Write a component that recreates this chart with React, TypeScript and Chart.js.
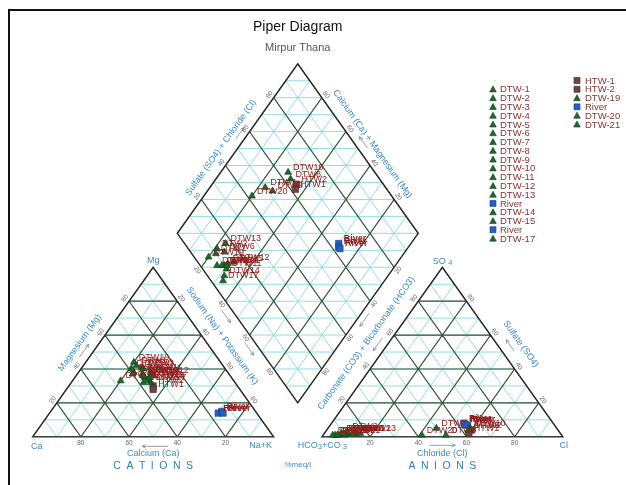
import React, { useEffect, useRef } from "react";
import { Chart, registerables } from "chart.js";

Chart.register(...registerables);

// ---------------- DATA (percent meq/l) ----------------
const sampleNames = [
  "DTW-1", "DTW-2", "DTW-3", "DTW-4", "DTW-5", "DTW-6", "DTW-7", "DTW-8", "DTW-9",
  "DTW-10", "DTW-11", "DTW-12", "DTW-13", "River", "DTW-14", "DTW-15", "River", "DTW-17",
  "HTW-1", "HTW-2", "DTW-19", "River", "DTW-20", "DTW-21",
];
const sampleKinds = [
  "DTW", "DTW", "DTW", "DTW", "DTW", "DTW", "DTW", "DTW", "DTW",
  "DTW", "DTW", "DTW", "DTW", "River", "DTW", "DTW", "River", "DTW",
  "HTW", "HTW", "DTW", "River", "DTW", "DTW",
];
const calciumPct = [36, 39, 34, 32, 36, 34, 40, 34, 36, 36, 35, 32, 39, 14, 35, 38, 14, 35, 36, 35, 36, 16, 47, 36];
const magnesiumPct = [42, 40, 40, 38, 36, 41, 37, 35, 37, 36, 34, 36, 38, 14, 33, 32, 15, 32, 28, 30, 44, 14, 33, 35];
const sodiumPotassiumPct = [22, 21, 26, 30, 28, 25, 23, 31, 27, 28, 31, 32, 23, 72, 32, 30, 71, 33, 36, 35, 20, 70, 20, 29];
const bicarbonatePct = [90, 88, 93, 89, 91, 86, 50, 37, 48, 36, 90, 85, 83, 37, 93, 88, 37, 95, 38, 36, 94, 36, 58, 90];
const sulfatePct = [2, 3, 1, 2, 2, 2, 5, 4, 1, 5, 2, 2, 2, 7, 1, 2, 8, 1, 2, 4, 1, 7, 1, 1];
const chloridePct = [8, 9, 6, 9, 7, 12, 45, 59, 51, 59, 8, 13, 15, 56, 6, 10, 55, 4, 60, 60, 5, 57, 41, 9];
const tickValues = [20, 40, 60, 80];
const legendFirstColumnCount = 18;

// ---------------- GEOMETRY ----------------
const SQ3 = Math.sqrt(3);
const H = SQ3 / 2;
const GAP = 20;
const CATION: number[][] = [[0, 0], [100, 0], [50, 100 * H]];
const ANION: number[][] = [[100 + GAP, 0], [200 + GAP, 0], [150 + GAP, 100 * H]];
const DIAMOND: number[][] = [
  [100 + GAP / 2, GAP * H],
  [150 + GAP / 2, (100 + GAP) * H],
  [100 + GAP / 2, (200 + GAP) * H],
  [50 + GAP / 2, (100 + GAP) * H],
];
const centroid = (pts: number[][]) => [
  pts.reduce((s, p) => s + p[0], 0) / pts.length,
  pts.reduce((s, p) => s + p[1], 0) / pts.length,
];

function cationPoint(i: number) {
  const t = calciumPct[i] + magnesiumPct[i] + sodiumPotassiumPct[i];
  const mg = (magnesiumPct[i] / t) * 100;
  const nak = (sodiumPotassiumPct[i] / t) * 100;
  return { x: nak + mg / 2, y: mg * H };
}
function anionPoint(i: number) {
  const t = bicarbonatePct[i] + sulfatePct[i] + chloridePct[i];
  const so4 = (sulfatePct[i] / t) * 100;
  const cl = (chloridePct[i] / t) * 100;
  return { x: 100 + GAP + cl + so4 / 2, y: so4 * H };
}
function diamondPoint(i: number) {
  const tc = calciumPct[i] + magnesiumPct[i] + sodiumPotassiumPct[i];
  const ta = bicarbonatePct[i] + sulfatePct[i] + chloridePct[i];
  const u = sodiumPotassiumPct[i] / tc;
  const v = (sulfatePct[i] + chloridePct[i]) / ta;
  const L = DIAMOND[3];
  return { x: L[0] + 50 * u + 50 * v, y: L[1] + 100 * H * (v - u) };
}

const KIND_COLOR: Record<string, string> = { DTW: "#1d6a2a", HTW: "#6e4646", River: "#2060c8" };
const KIND_BORDER: Record<string, string> = { DTW: "#0f3d16", HTW: "#3e2020", River: "#123e8a" };

const FONT = "'Liberation Sans', Arial, Helvetica, sans-serif";
const BLUE = "#3a8cc4";
const TICK = "#666666";

const X_MIN = -28 / 2.45;
const X_MAX = (626 - 28) / 2.45;
const Y_MAX = 441 / 2.0;
const Y_MIN = (441 - 485) / 2.0;

const piperPlugin = {
  id: "piperFrame",
  beforeDatasetsDraw(chart: any) {
    const ctx: CanvasRenderingContext2D = chart.ctx;
    const xs = chart.scales.x;
    const ys = chart.scales.y;
    const P = (X: number, Y: number) => [xs.getPixelForValue(X), ys.getPixelForValue(Y)];
    const path = (pts: number[][]) => {
      ctx.beginPath();
      pts.forEach((p, k) => {
        const q = P(p[0], p[1]);
        if (k === 0) ctx.moveTo(q[0], q[1]);
        else ctx.lineTo(q[0], q[1]);
      });
      ctx.closePath();
    };
    const lattice = (step: number, horiz: boolean, color: string, width: number) => {
      ctx.beginPath();
      if (horiz) {
        for (let k = 0; k * step * H <= 200; k++) {
          const Y = k * step * H;
          const a = P(-20, Y), b = P(260, Y);
          ctx.moveTo(a[0], a[1]);
          ctx.lineTo(b[0], b[1]);
        }
      }
      const y0 = -10, y1 = 200;
      for (let c = -200; c <= 360; c += step) {
        let a = P(c + y0 / SQ3, y0), b = P(c + y1 / SQ3, y1);
        ctx.moveTo(a[0], a[1]);
        ctx.lineTo(b[0], b[1]);
        a = P(c - y0 / SQ3, y0);
        b = P(c - y1 / SQ3, y1);
        ctx.moveTo(a[0], a[1]);
        ctx.lineTo(b[0], b[1]);
      }
      ctx.strokeStyle = color;
      ctx.lineWidth = width;
      ctx.stroke();
    };
    ctx.save();
    [CATION, ANION, DIAMOND].forEach((shape, si) => {
      ctx.save();
      path(shape);
      ctx.clip();
      lattice(10, true, "#80d8d8", 0.85);
      lattice(20, si !== 2, "#365636", 1.15);
      ctx.restore();
      path(shape);
      ctx.strokeStyle = "#2a2a2a";
      ctx.lineWidth = 1.4;
      ctx.stroke();
    });
    ctx.restore();
  },
  afterDatasetsDraw(chart: any) {
    const ctx: CanvasRenderingContext2D = chart.ctx;
    const xs = chart.scales.x;
    const ys = chart.scales.y;
    const P = (X: number, Y: number) => [xs.getPixelForValue(X), ys.getPixelForValue(Y)];

    const text = (t: string, x: number, y: number, font: string, color: string, angle = 0, align: CanvasTextAlign = "center") => {
      ctx.save();
      ctx.translate(x, y);
      ctx.rotate(angle);
      ctx.font = font;
      ctx.fillStyle = color;
      ctx.textAlign = align;
      ctx.textBaseline = "middle";
      ctx.fillText(t, 0, 0);
      ctx.restore();
    };
    const edge = (A: number[], B: number[], shape: number[][]) => {
      const a = P(A[0], A[1]), b = P(B[0], B[1]);
      const cc = centroid(shape);
      const c = P(cc[0], cc[1]);
      let dx = b[0] - a[0], dy = b[1] - a[1];
      const len = Math.hypot(dx, dy);
      dx /= len; dy /= len;
      if (dx < -1e-6) { dx = -dx; dy = -dy; }
      const mx = (a[0] + b[0]) / 2, my = (a[1] + b[1]) / 2;
      let nx = -dy, ny = dx;
      if ((mx - c[0]) * nx + (my - c[1]) * ny < 0) { nx = -nx; ny = -ny; }
      return {
        dx, dy, nx, ny, angle: Math.atan2(dy, dx),
        at: (off: number, shift: number) => [mx + nx * off + dx * shift, my + ny * off + dy * shift],
        along: (f: number, off: number) => [a[0] + (b[0] - a[0]) * f + nx * off, a[1] + (b[1] - a[1]) * f + ny * off],
      };
    };
    const arrow = (x: number, y: number, ux: number, uy: number, len: number) => {
      const x0 = x - (ux * len) / 2, y0 = y - (uy * len) / 2;
      const x1 = x + (ux * len) / 2, y1 = y + (uy * len) / 2;
      ctx.save();
      ctx.strokeStyle = "#7a8a9a";
      ctx.lineWidth = 0.8;
      ctx.beginPath();
      ctx.moveTo(x0, y0);
      ctx.lineTo(x1, y1);
      const ang = Math.atan2(uy, ux);
      for (const s of [-1, 1]) {
        ctx.moveTo(x1, y1);
        ctx.lineTo(x1 - 4 * Math.cos(ang + s * 0.45), y1 - 4 * Math.sin(ang + s * 0.45));
      }
      ctx.stroke();
      ctx.restore();
    };
    const lblFont = `9px ${FONT}`;
    const tickFont = `6.5px ${FONT}`;

    // ---- edges, axis titles, arrows, ticks ----
    const cL = edge(CATION[0], CATION[2], CATION);
    const cR = edge(CATION[2], CATION[1], CATION);
    const cB = edge(CATION[0], CATION[1], CATION);
    const aL = edge(ANION[0], ANION[2], ANION);
    const aR = edge(ANION[2], ANION[1], ANION);
    const aB = edge(ANION[0], ANION[1], ANION);
    const dUL = edge(DIAMOND[3], DIAMOND[2], DIAMOND);
    const dUR = edge(DIAMOND[2], DIAMOND[1], DIAMOND);
    const dLL = edge(DIAMOND[3], DIAMOND[0], DIAMOND);
    const dLR = edge(DIAMOND[0], DIAMOND[1], DIAMOND);

    let p = cL.at(16, 0);
    text("Magnesium (Mg)", p[0], p[1], lblFont, BLUE, cL.angle);
    p = cL.at(8, -4); arrow(p[0], p[1], cL.dx, cL.dy, 16);

    p = cR.at(16.5, -8);
    text("Sodium (Na) + Potassium (K)", p[0], p[1], lblFont, BLUE, cR.angle);
    p = cR.at(31, -22); arrow(p[0], p[1], cR.dx, cR.dy, 16);
    p = cR.at(31, 18); arrow(p[0], p[1], cR.dx, cR.dy, 16);

    p = cB.at(17, 0);
    text("Calcium (Ca)", p[0], p[1], lblFont, BLUE);
    p = cB.at(9.5, 2); arrow(p[0], p[1], -1, 0, 26);

    p = aR.at(19.5, 4);
    text("Sulfate (SO4)", p[0], p[1], lblFont, BLUE, aR.angle);
    p = aR.at(10, -1); arrow(p[0], p[1], -aR.dx, -aR.dy, 14);

    p = aL.at(18, -2);
    text("Carbonate (CO3) + Bicarbonate (HCO3)", p[0], p[1], lblFont, BLUE, aL.angle);
    p = aL.at(33, 16); arrow(p[0], p[1], -aL.dx, -aL.dy, 16);
    p = aL.at(8, 4); arrow(p[0], p[1], -aL.dx, -aL.dy, 16);

    p = aB.at(17, 0);
    text("Chloride (Cl)", p[0], p[1], lblFont, BLUE);
    p = aB.at(8.5, 0); arrow(p[0], p[1], 1, 0, 26);

    p = dUL.at(14, -9);
    text("Sulfate (SO4) + Chloride (Cl)", p[0], p[1], lblFont, BLUE, dUL.angle);
    p = dUL.at(7, 14); arrow(p[0], p[1], dUL.dx, dUL.dy, 14);

    p = dUR.at(14.5, 4.7);
    text("Calcium (Ca) + Magnesium (Mg)", p[0], p[1], lblFont, BLUE, dUR.angle);
    p = dUR.at(8, -2); arrow(p[0], p[1], -dUR.dx, -dUR.dy, 14);

    // ticks
    tickValues.forEach((t) => {
      const f = t / 100;
      let q = cB.along(f, 6); text(String(100 - t), q[0], q[1], tickFont, TICK);
      q = cL.along(f, 5); text(String(t), q[0], q[1], tickFont, TICK, cL.angle);
      q = cR.along(f, 5); text(String(t), q[0], q[1], tickFont, TICK, cR.angle);
      q = aB.along(f, 6); text(String(t), q[0], q[1], tickFont, TICK);
      q = aL.along(f, 5); text(String(t), q[0], q[1], tickFont, TICK, aL.angle);
      q = aR.along(f, 5); text(String(100 - t), q[0], q[1], tickFont, TICK, aR.angle);
      q = dUL.along(f, 5); text(String(t), q[0], q[1], tickFont, TICK, dUL.angle);
      q = dUR.along(f, 5); text(String(100 - t), q[0], q[1], tickFont, TICK, dUR.angle);
      q = dLL.along(f, 5); text(String(t), q[0], q[1], tickFont, TICK, dLL.angle);
      q = dLR.along(f, 5); text(String(100 - t), q[0], q[1], tickFont, TICK, dLR.angle);
    });

    // corner labels
    let v = P(CATION[0][0], CATION[0][1]);
    text("Ca", v[0] + 4, v[1] + 10, lblFont, BLUE);
    v = P(CATION[2][0], CATION[2][1]);
    text("Mg", v[0], v[1] - 7, lblFont, BLUE);
    v = P(CATION[1][0], CATION[1][1]);
    text("Na+K", v[0] - 13, v[1] + 8.5, lblFont, BLUE);
    v = P(ANION[2][0], ANION[2][1]);
    text("SO", v[0] - 3, v[1] - 6, lblFont, BLUE);
    text("4", v[0] + 8, v[1] - 4.5, `7.5px ${FONT}`, BLUE);
    v = P(ANION[1][0], ANION[1][1]);
    text("Cl", v[0] + 1, v[1] + 8.5, lblFont, BLUE);
    v = P(ANION[0][0], ANION[0][1]);
    {
      let x = v[0] - 24;
      const y = v[1] + 8.5;
      const pieces: [string, number, number][] = [["HCO", 9, 0], ["3", 7.5, 2], ["+CO", 9, 0], [" 3", 7.5, 2]];
      pieces.forEach(([s, sz, dy]) => {
        ctx.font = `${sz}px ${FONT}`;
        text(s, x, y + dy, `${sz}px ${FONT}`, BLUE, 0, "left");
        x += ctx.measureText(s).width;
      });
    }
    v = P(DIAMOND[0][0], 0);
    text("%meq/l", v[0], v[1] + 28, `8px ${FONT}`, BLUE);

    const spaced = (s: string, cx: number, cy: number, font: string, color: string, gap: number) => {
      ctx.save();
      ctx.font = font;
      const widths = s.split("").map((ch) => ctx.measureText(ch).width);
      const total = widths.reduce((a, b) => a + b, 0) + gap * (s.length - 1);
      let x = cx - total / 2;
      s.split("").forEach((ch, k) => {
        text(ch, x, cy, font, color, 0, "left");
        x += widths[k] + gap;
      });
      ctx.restore();
    };
    p = cB.at(29, 0);
    spaced("CATIONS", p[0], p[1], `10.5px ${FONT}`, "#2f7fb8", 5.5);
    p = aB.at(29, 0);
    spaced("ANIONS", p[0], p[1], `10.5px ${FONT}`, "#2f7fb8", 5.5);

    // ---- point labels ----
    chart.data.datasets.forEach((ds: any, i: number) => {
      const meta = chart.getDatasetMeta(i);
      const name = ds.label.replace("-", "");
      const isRiver = sampleKinds[i] === "River";
      meta.data.forEach((el: any) => {
        text(name, el.x + 5, el.y - 5, `${isRiver ? "bold " : ""}9px ${FONT}`, "#921b1b", 0, "left");
      });
    });

    // ---- legend ----
    const drawIcon = (kind: string, x: number, y: number) => {
      ctx.save();
      ctx.fillStyle = KIND_COLOR[kind];
      ctx.strokeStyle = KIND_BORDER[kind];
      ctx.lineWidth = 0.6;
      ctx.beginPath();
      if (kind === "DTW") {
        ctx.moveTo(x, y - 3.4);
        ctx.lineTo(x + 3.3, y + 2.6);
        ctx.lineTo(x - 3.3, y + 2.6);
        ctx.closePath();
      } else {
        ctx.rect(x - 3, y - 3, 6, 6);
      }
      ctx.fill();
      ctx.stroke();
      ctx.restore();
    };
    const legendFont = `9.5px ${FONT}`;
    const rowStep = 8.78;
    const y0 = 80.5;
    ctx.save();
    ctx.fillStyle = "#bbbbbb";
    ctx.fillRect(494, y0 - 0.5, 1.2, 1.2);
    ctx.restore();
    chart.data.datasets.forEach((ds: any, i: number) => {
      const col = i < legendFirstColumnCount ? 0 : 1;
      const row = col === 0 ? i + 1 : i - legendFirstColumnCount;
      const ix = col === 0 ? 493 : 577;
      const tx = col === 0 ? 500 : 585;
      const y = y0 + row * rowStep;
      drawIcon(sampleKinds[i], ix, y);
      text(ds.label, tx, y + 0.5, legendFont, "#843434", 0, "left");
    });

    // ---- title ----
    const top = P(DIAMOND[2][0], DIAMOND[2][1]);
    text("Piper Diagram", top[0], 27, `14px ${FONT}`, "#111111");
    text("Mirpur Thana", top[0], 48, `11px ${FONT}`, "#555555");
  },
};

export default function App() {
  const ref = useRef<HTMLCanvasElement>(null);
  useEffect(() => {
    const canvas = ref.current;
    if (!canvas) return;
    const datasets = sampleNames.map((name, i) => {
      const kind = sampleKinds[i];
      return {
        label: name,
        data: [cationPoint(i), anionPoint(i), diamondPoint(i)],
        pointStyle: kind === "DTW" ? "triangle" : "rect",
        pointRadius: kind === "DTW" ? 4 : 4.5,
        backgroundColor: KIND_COLOR[kind],
        borderColor: KIND_BORDER[kind],
        borderWidth: 0.6,
      };
    });
    const chart = new Chart(canvas, {
      type: "scatter",
      data: { datasets } as any,
      options: {
        animation: false,
        responsive: false,
        maintainAspectRatio: false,
        events: [],
        layout: { padding: 0 },
        plugins: { legend: { display: false }, tooltip: { enabled: false }, title: { display: false } },
        scales: {
          x: { type: "linear", min: X_MIN, max: X_MAX, display: false },
          y: { type: "linear", min: Y_MIN, max: Y_MAX, display: false },
        },
      } as any,
      plugins: [piperPlugin as any],
    });
    return () => chart.destroy();
  }, []);
  return (
    <div style={{ position: "fixed", left: 0, top: 0, width: 626, height: 485, background: "#ffffff" }}>
      <div
        style={{
          position: "absolute", left: 8, top: 9, right: 0, bottom: 0,
          borderLeft: "2px solid #111", borderTop: "2px solid #111",
        }}
      />
      <canvas ref={ref} width={626} height={485} style={{ position: "absolute", left: 0, top: 0, width: 626, height: 485 }} />
    </div>
  );
}
